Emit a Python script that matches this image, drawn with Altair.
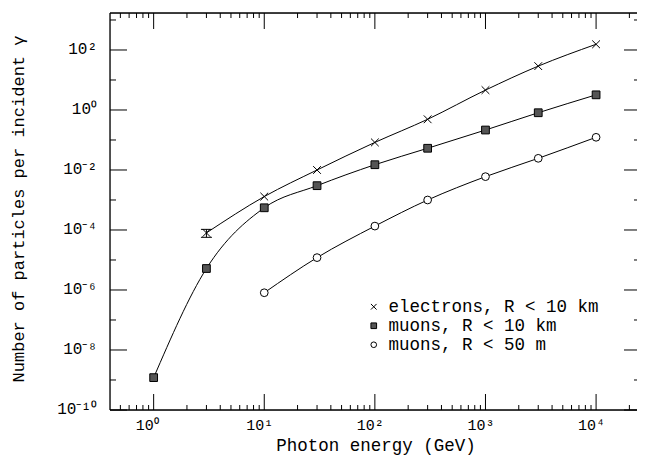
import altair as alt
import pandas as pd

# ---------------- data ----------------
e_x = [3, 10, 30, 100, 300, 1000, 3000, 10000]
e_y = [8.0e-5, 1.3e-3, 1.0e-2, 8.3e-2, 0.49, 4.6, 29.0, 155.0]

m10_x = [1, 3, 10, 30, 100, 300, 1000, 3000, 10000]
m10_y = [1.2e-9, 5.2e-6, 5.5e-4, 3.0e-3, 1.5e-2, 5.3e-2, 0.215, 0.81, 3.2]

m50_x = [10, 30, 100, 300, 1000, 3000, 10000]
m50_y = [8.1e-7, 1.2e-5, 1.35e-4, 1.0e-3, 6.0e-3, 2.45e-2, 0.123]

err_x = [3]
err_lo = [5.7e-5]
err_hi = [1.05e-4]

series_names = ["electrons, R < 10 km", "muons, R < 10 km", "muons, R < 50 m"]

x_major = [1, 10, 100, 1000, 10000]
x_labels = ["10⁰", "10¹", "10²", "10³", "10⁴"]
x_minor = [0.5, 0.6, 0.7, 0.8, 0.9,
           2, 3, 4, 5, 6, 7, 8, 9,
           20, 30, 40, 50, 60, 70, 80, 90,
           200, 300, 400, 500, 600, 700, 800, 900,
           2000, 3000, 4000, 5000, 6000, 7000, 8000, 9000,
           20000]

y_major = [1e-10, 1e-8, 1e-6, 1e-4, 1e-2, 1, 1e2]
y_labels = ["10⁻¹⁰", "10⁻⁸", "10⁻⁶", "10⁻⁴", "10⁻²", "10⁰", "10²"]
y_minor = [1e-9, 1e-7, 1e-5, 1e-3, 1e-1, 10, 1e3]

x_title = "Photon energy (GeV)"
y_title = "Number of particles per incident γ"

# ---------------- tables ----------------
df = pd.concat([
    pd.DataFrame({"E": e_x, "N": e_y, "series": series_names[0]}),
    pd.DataFrame({"E": m10_x, "N": m10_y, "series": series_names[1]}),
    pd.DataFrame({"E": m50_x, "N": m50_y, "series": series_names[2]}),
], ignore_index=True)
err = pd.DataFrame({"E": err_x, "lo": err_lo, "hi": err_hi})
caps = pd.DataFrame({"E": err_x * 2, "N": err_lo + err_hi})
xlab = pd.DataFrame({"v": x_major, "t": x_labels})
ylab = pd.DataFrame({"v": y_major, "t": y_labels})

W, H = 527, 397
FONT = "Liberation Mono"

xs = alt.Scale(type="log", domain=[0.403, 23440], nice=False)
ys = alt.Scale(type="log", domain=[1e-10, 1710], nice=False)

X = lambda f: alt.X(f, scale=xs, axis=None)
Y = lambda f: alt.Y(f, scale=ys, axis=None)

lines = alt.Chart(df).mark_line(interpolate="monotone", color="black", strokeWidth=1).encode(
    x=X("E:Q"), y=Y("N:Q"), detail="series:N",
)

leg = dict(title=None, orient="none", legendX=255, legendY=285,
           labelFont=FONT, labelFontSize=17.5, labelColor="black", labelLimit=0,
           symbolStrokeWidth=1, symbolSize=32, rowPadding=0, labelOffset=6)

points = alt.Chart(df).mark_point(filled=True, stroke="black", strokeWidth=1, size=60,
                                  opacity=1).encode(
    x=X("E:Q"), y=Y("N:Q"),
    shape=alt.Shape("series:N", sort=None,
                    scale=alt.Scale(domain=series_names,
                                    range=["M-1,-1L1,1M1,-1L-1,1", "square", "circle"]),
                    legend=alt.Legend(**leg)),
    fill=alt.Fill("series:N", sort=None,
                  scale=alt.Scale(domain=series_names, range=["black", "#555555", "white"]),
                  legend=alt.Legend(**leg)),
    stroke=alt.Stroke("series:N", sort=None,
                      scale=alt.Scale(domain=series_names, range=["black", "black", "black"]),
                      legend=alt.Legend(**leg)),
)

errbar = alt.Chart(err).mark_rule(color="black", strokeWidth=1).encode(
    x=X("E:Q"), y=Y("lo:Q"), y2="hi:Q",
)
errcaps = alt.Chart(caps).mark_tick(orient="horizontal", color="black", thickness=1,
                                    size=11, opacity=1).encode(
    x=X("E:Q"), y=Y("N:Q"),
)


def xticks(vals, y0, y1):
    return alt.Chart(pd.DataFrame({"v": vals})).mark_rule(color="black", strokeWidth=1).encode(
        x=X("v:Q"), y=alt.value(y0), y2=alt.value(y1))


def yticks(vals, x0, x1):
    return alt.Chart(pd.DataFrame({"v": vals})).mark_rule(color="black", strokeWidth=1).encode(
        y=Y("v:Q"), x=alt.value(x0), x2=alt.value(x1))


one = pd.DataFrame({"a": [0]})
frame = [
    alt.Chart(one).mark_rule(color="black", strokeWidth=1.3).encode(
        x=alt.value(0), x2=alt.value(W), y=alt.value(0)),
    alt.Chart(one).mark_rule(color="black", strokeWidth=1.3).encode(
        x=alt.value(0), x2=alt.value(W), y=alt.value(H)),
    alt.Chart(one).mark_rule(color="black", strokeWidth=1.3).encode(
        x=alt.value(0), y=alt.value(0), y2=alt.value(H)),
]

xlabels = alt.Chart(xlab).mark_text(font=FONT, fontSize=15, color="black", align="left",
                                    baseline="top", dx=-18).encode(
    x=X("v:Q"), y=alt.value(H + 8), text="t:N")
ylabels = alt.Chart(ylab).mark_text(font=FONT, fontSize=16, color="black", align="right",
                                    baseline="middle", dy=-1).encode(
    y=Y("v:Q"), x=alt.value(-13), text="t:N")

xtitle = alt.Chart(pd.DataFrame({"t": [x_title]})).mark_text(
    font=FONT, fontSize=17.5, color="black", align="center", baseline="alphabetic").encode(
    x=alt.value(266), y=alt.value(H + 41), text="t:N")
ytitle = alt.Chart(pd.DataFrame({"t": [y_title]})).mark_text(
    font=FONT, fontSize=17, color="black", align="center", baseline="middle",
    angle=270).encode(
    x=alt.value(-91), y=alt.value(196), text="t:N")

chart = alt.layer(
    lines, errbar, errcaps, points,
    xticks(x_major, H, H - 16), xticks(x_minor, H, H - 5),
    xticks(x_major, 0, 16), xticks(x_minor, 0, 5),
    yticks(y_major, 0, 17), yticks(y_minor, 0, 6),
    yticks(y_major, W, W - 13), yticks(y_minor, W, W - 3),
    *frame, xlabels, ylabels, xtitle, ytitle,
).properties(
    width=W, height=H,
    autosize=alt.AutoSizeParams(type="none"),
    padding={"left": 102, "top": 5, "right": 0, "bottom": 47},
).configure_view(stroke=None).configure(background="white")

chart.save("out.html", embed_options={"renderer": "svg", "actions": False})
